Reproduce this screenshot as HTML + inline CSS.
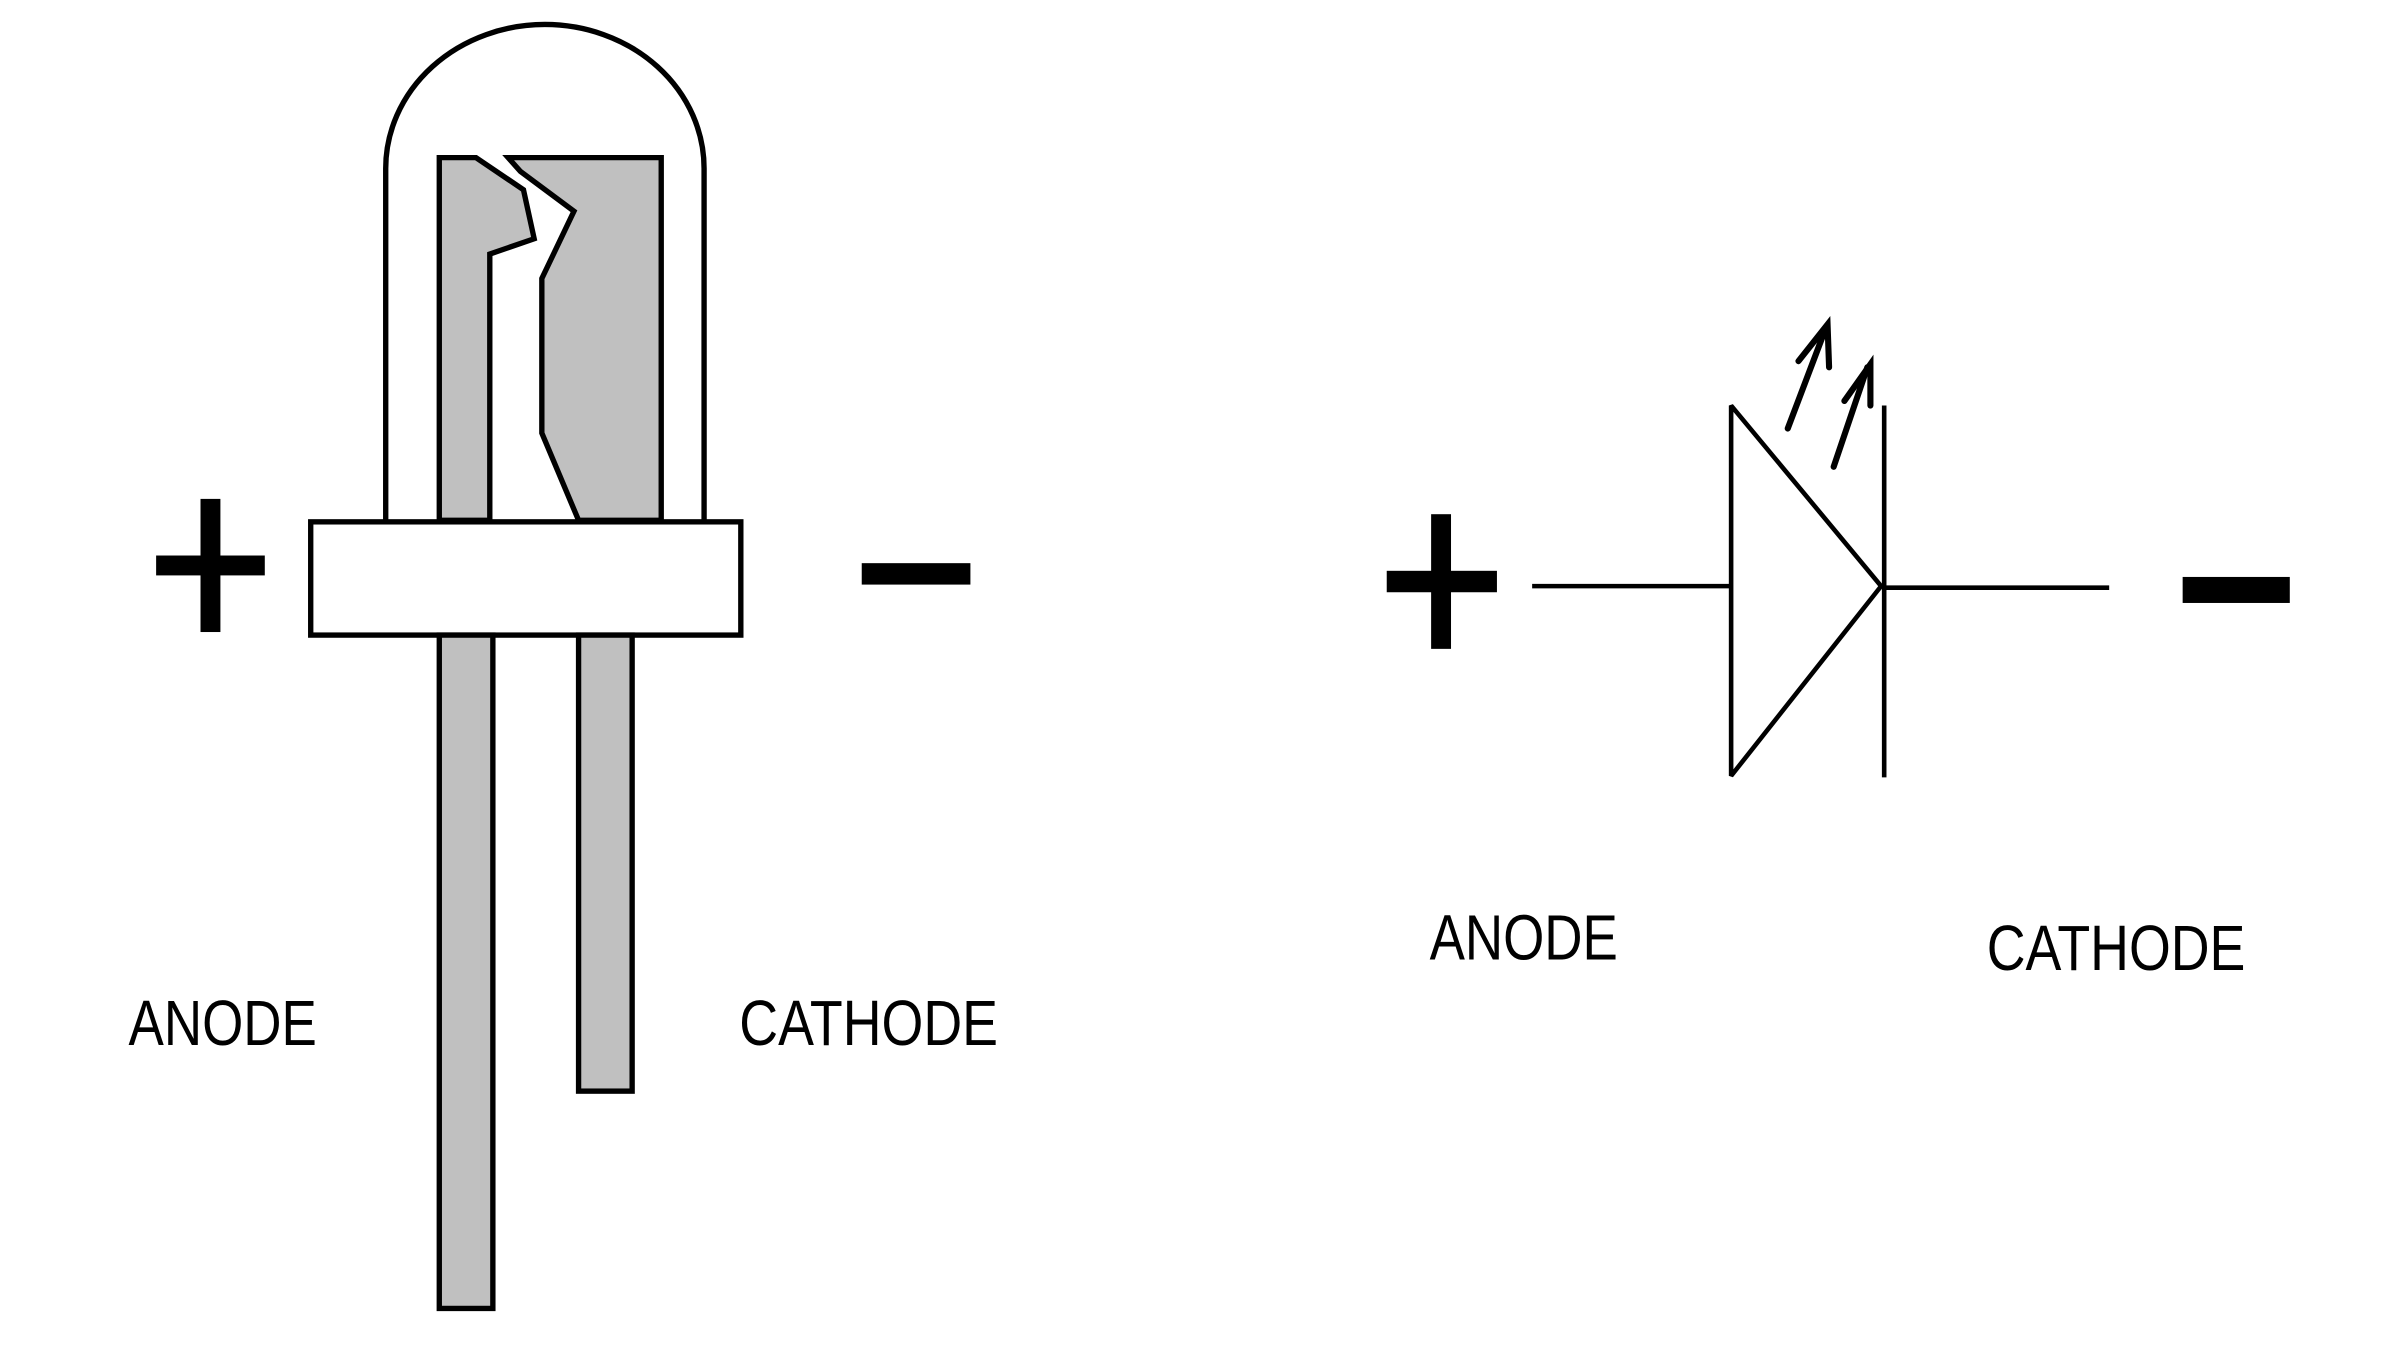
<!DOCTYPE html>
<html><head><style>html,body{margin:0;padding:0;background:#fff;}svg{display:block;}</style></head>
<body>
<svg width="2400" height="1349" viewBox="0 0 1568 881.5" preserveAspectRatio="none" xmlns="http://www.w3.org/2000/svg">
<rect width="1568" height="881.5" fill="#fff"/>
<g stroke="#000" stroke-width="3.5" stroke-linejoin="miter">
<path d="M252,340 L252,110 A104,94 0 0 1 460,110 L460,340" fill="#fff"/>
<path d="M287,340 L287,103 L311,103 L342,124 L349,156 L320,166 L320,340 Z" fill="#c0c0c0"/>
<path d="M332,103 L432,103 L432,340 L378,340 L354,283 L354,182 L375,138 L340,112 Z" fill="#c0c0c0"/>
<rect x="203" y="341" width="281" height="74" fill="#fff"/>
<rect x="287" y="415" width="35" height="440" fill="#c0c0c0"/>
<rect x="378" y="415" width="35" height="298" fill="#c0c0c0"/>
</g>
<rect x="102" y="363" width="71" height="13" fill="#000"/>
<rect x="131" y="326" width="13" height="87" fill="#000"/>
<rect x="563" y="368" width="71" height="14" fill="#000"/>
<rect x="906" y="373" width="72" height="14" fill="#000"/>
<rect x="935" y="336" width="13" height="88" fill="#000"/>
<rect x="1426" y="377" width="70" height="17" fill="#000"/>
<g stroke="#000" stroke-width="3" fill="none">
<line x1="1001" y1="383" x2="1131" y2="383"/>
<path d="M1131,265 L1131,507 L1229,383 Z" stroke-linejoin="bevel"/>
<line x1="1231" y1="265" x2="1231" y2="508"/>
<line x1="1231" y1="384" x2="1378" y2="384"/>
</g>
<g stroke="#000" stroke-width="4" fill="none" stroke-linecap="round">
<line x1="1168" y1="280" x2="1193" y2="214"/>
<path d="M1175,236 L1194,212 L1195,240"/>
<line x1="1198" y1="305" x2="1220" y2="240"/>
<path d="M1205,262 L1222,238 L1222,265"/>
</g>
<g font-family="Liberation Sans, sans-serif" font-size="42" fill="#000">
<text x="84" y="683" textLength="123" lengthAdjust="spacingAndGlyphs">ANODE</text>
<text x="483" y="683" textLength="169" lengthAdjust="spacingAndGlyphs">CATHODE</text>
<text x="934" y="627" textLength="123" lengthAdjust="spacingAndGlyphs">ANODE</text>
<text x="1298" y="634" textLength="169" lengthAdjust="spacingAndGlyphs">CATHODE</text>
</g>
</svg>
</body></html>
